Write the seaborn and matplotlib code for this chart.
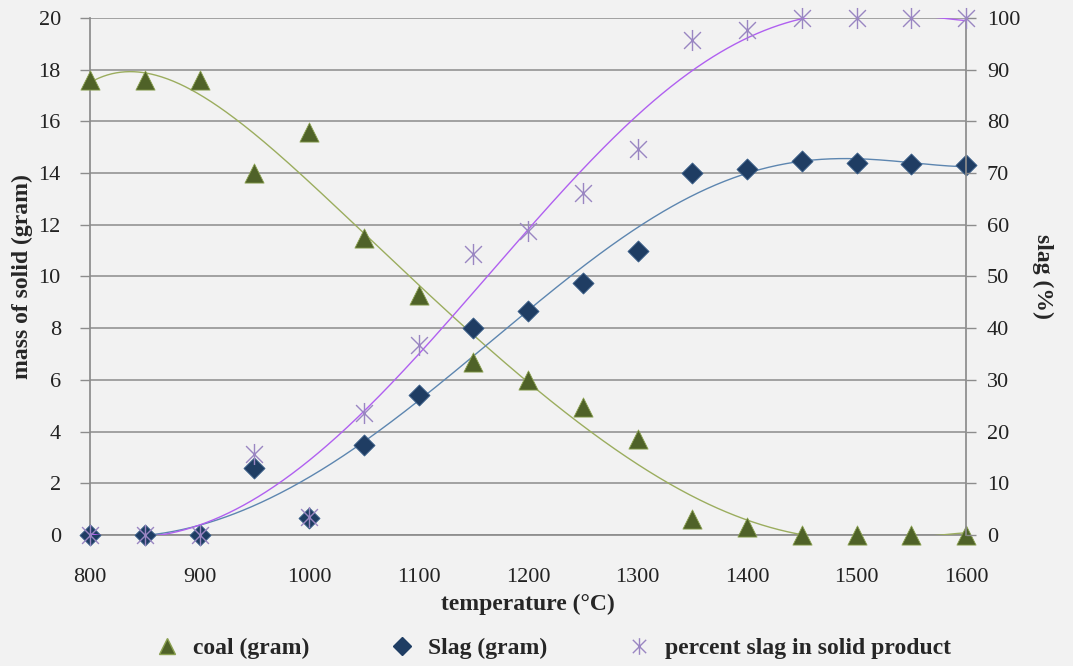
import numpy as np
import pandas as pd
import matplotlib
matplotlib.use("Agg")
import matplotlib.pyplot as plt
from matplotlib.path import Path
from matplotlib.lines import Line2D
import seaborn as sns

# Measured data
temperature = [800, 850, 900, 950, 1000, 1050, 1100, 1150, 1200, 1250, 1300,
               1350, 1400, 1450, 1500, 1550, 1600]
coal_gram = [17.6, 17.6, 17.6, 14.0, 15.6, 11.5, 9.3, 6.7, 6.0, 4.95, 3.7,
             0.6, 0.3, 0.0, 0.0, 0.0, 0.0]
slag_gram = [0.0, 0.0, 0.0, 2.6, 0.65, 3.5, 5.4, 8.0, 8.65, 9.75, 11.0,
             14.0, 14.15, 14.45, 14.4, 14.35, 14.3]
slag_percent = [0.0, 0.0, 0.0, 15.7, 3.5, 23.6, 36.8, 54.3, 58.8, 66.2, 74.7,
                95.8, 97.6, 100.0, 100.0, 100.0, 100.0]

x_ticks = [800, 900, 1000, 1100, 1200, 1300, 1400, 1500, 1600]
left_ticks = list(range(0, 21, 2))
right_ticks = list(range(0, 101, 10))

df = pd.DataFrame({"temperature": temperature, "coal": coal_gram,
                   "slag": slag_gram, "percent": slag_percent})

# Polynomial trend lines through each series
xs = np.linspace(800, 1600, 600)
def trend(y, deg):
    t = (np.array(temperature) - 1200) / 400
    c = np.polyfit(t, y, deg)
    return np.polyval(c, (xs - 1200) / 400)

trend_df = pd.DataFrame({"temperature": xs,
                         "coal": trend(coal_gram, 6),
                         "slag": trend(slag_gram, 6),
                         "percent": trend(slag_percent, 6)})

bg = "#f2f2f2"
sns.set_theme(style="white")
plt.rcParams["font.family"] = ["Liberation Serif", "DejaVu Serif"]

fig = plt.figure(figsize=(10.73, 6.66), dpi=100, facecolor=bg)
ax = fig.add_axes([0.0839, 0.1967, 0.8164, 0.7763])
ax.set_facecolor(bg)
ax2 = ax.twinx()

coal_marker_c = "#4f6228"
coal_line_c = "#9bad5e"
slag_marker_c = "#1f3d63"
slag_line_c = "#5d86b0"
pct_marker_c = "#9a86c2"
pct_line_c = "#b060f0"

star = Path([(-1, -1), (1, 1), (-1, 1), (1, -1), (0, -1.25), (0, 1.25)],
            [Path.MOVETO, Path.LINETO, Path.MOVETO, Path.LINETO, Path.MOVETO, Path.LINETO])

for v in left_ticks:
    ax.axhline(v, color="#8c8c8c", lw=1.1, zorder=0)

sns.lineplot(data=trend_df, x="temperature", y="coal", ax=ax, color=coal_line_c,
             lw=1.0, zorder=3, legend=False)
sns.lineplot(data=trend_df, x="temperature", y="slag", ax=ax, color=slag_line_c,
             lw=1.0, zorder=3, legend=False)
sns.scatterplot(data=df, x="temperature", y="coal", ax=ax, marker="^", s=190,
                color=coal_marker_c, edgecolor="#8aa050", linewidth=0.6, zorder=4,
                legend=False, clip_on=False)
sns.scatterplot(data=df, x="temperature", y="slag", ax=ax, marker="D", s=115,
                color=slag_marker_c, edgecolor="#3a5f8a", linewidth=0.6, zorder=4,
                legend=False, clip_on=False)

sns.lineplot(data=trend_df, x="temperature", y="percent", ax=ax2, color=pct_line_c,
             lw=1.0, zorder=3, legend=False)
sns.scatterplot(data=df, x="temperature", y="percent", ax=ax2, marker=star, s=230,
                color=pct_marker_c, edgecolor=pct_marker_c, linewidth=1.0, zorder=4,
                legend=False, clip_on=False)

ax.set_xlim(800, 1600)
ax.set_ylim(0, 20)
ax2.set_ylim(0, 100)
ax.set_xticks(x_ticks)
ax.set_yticks(left_ticks)
ax2.set_yticks(right_ticks)

ax.set_xlabel("temperature (°C)", fontsize=17, fontweight="bold", labelpad=5)
ax.set_ylabel("mass of solid (gram)", fontsize=17, fontweight="bold", labelpad=4)
ax2.set_ylabel("slag (%)", fontsize=17, fontweight="bold", rotation=270, labelpad=24)

for a in (ax, ax2):
    a.grid(False)
    for s in a.spines.values():
        s.set_visible(False)
    a.tick_params(axis="both", labelsize=16, colors="#8c8c8c", labelcolor="#222222",
                  length=7, width=1, direction="out")

ax.tick_params(axis="y", pad=14)
ax2.tick_params(axis="y", pad=8)
ax.tick_params(axis="x", pad=17)
ax.spines["left"].set_visible(True)
ax.spines["left"].set_color("#8c8c8c")
ax2.spines["right"].set_visible(True)
ax2.spines["right"].set_color("#8c8c8c")
ax.spines["bottom"].set_visible(True)
ax.spines["bottom"].set_color("#8c8c8c")

handles = [
    Line2D([], [], ls="none", marker="^", markersize=12, color=coal_marker_c,
           markeredgecolor="#8aa050"),
    Line2D([], [], ls="none", marker="D", markersize=9, color=slag_marker_c),
    Line2D([], [], ls="none", marker=star, markersize=12, color=pct_marker_c,
           markeredgewidth=1.0),
]
labels = ["coal (gram)", "Slag (gram)", "percent slag in solid product"]
fig.legend(handles, labels, loc="center", bbox_to_anchor=(0.51, 0.026), ncol=3,
           frameon=False, handletextpad=0.1, columnspacing=2.9,
           prop={"family": "Liberation Serif", "weight": "bold", "size": 17})

fig.savefig("out.png", dpi=100, facecolor=bg)
